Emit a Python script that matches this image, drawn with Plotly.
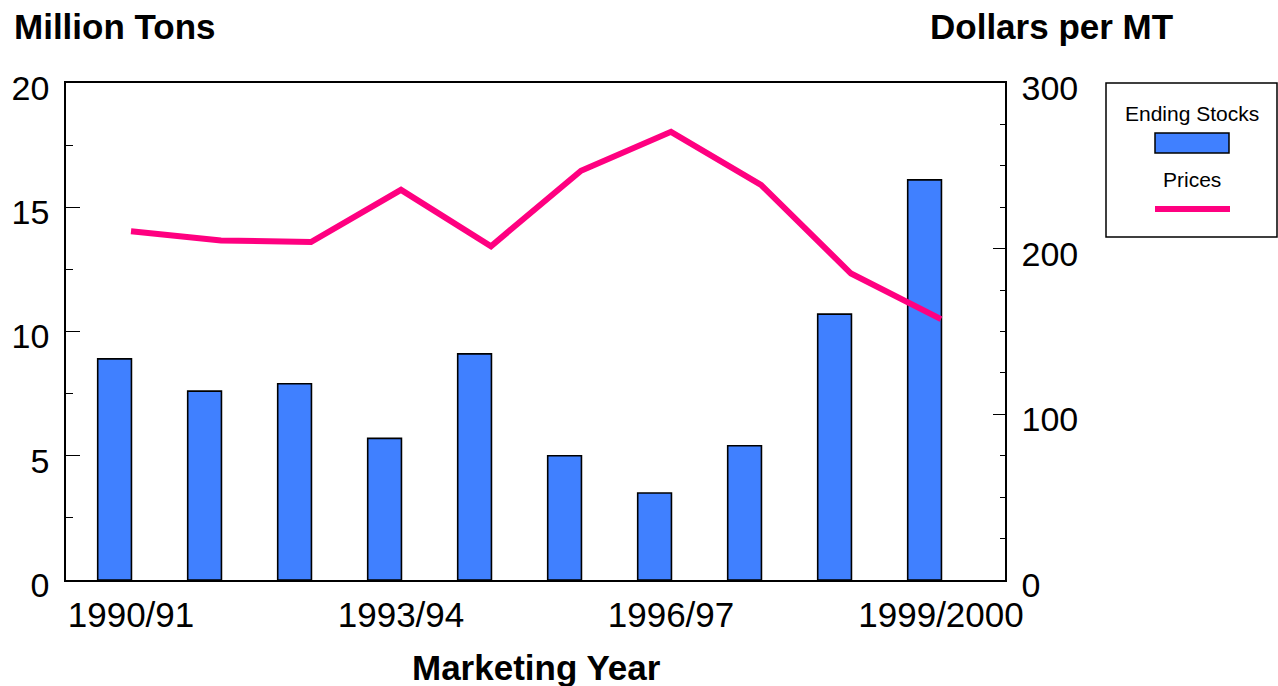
import plotly.graph_objects as go

years = ["1990/91", "1991/92", "1992/93", "1993/94", "1994/95",
         "1995/96", "1996/97", "1997/98", "1998/99", "1999/2000"]
ending_stocks = [8.9, 7.6, 7.9, 5.7, 9.1, 5.0, 3.5, 5.4, 10.7, 16.1]
prices = [210.5, 205.0, 204.0, 235.5, 201.5, 247.0, 270.5, 238.5, 185.0, 157.5]
tick_years = ["1990/91", "1993/94", "1996/97", "1999/2000"]

xpos = list(range(len(years)))
tick_pos = [years.index(t) for t in tick_years]

BAR_COLOR = "#4080FF"
LINE_COLOR = "#FF0080"
FONT = "Liberation Sans, Arial, sans-serif"

W, H = 1278, 686
ML, MR, MT, MB = 66, 273, 83, 106

fig = go.Figure()
fig.add_trace(go.Bar(
    x=xpos, y=ending_stocks, name="Ending Stocks",
    offset=-0.37, width=0.375,
    marker=dict(color=BAR_COLOR, line=dict(color="black", width=1.6)),
    yaxis="y", showlegend=False,
))
fig.add_trace(go.Scatter(
    x=xpos, y=prices, name="Prices", mode="lines",
    line=dict(color=LINE_COLOR, width=6),
    yaxis="y2", showlegend=False,
))

fig.update_layout(
    width=W, height=H,
    margin=dict(l=ML, r=MR, t=MT, b=MB, autoexpand=False),
    paper_bgcolor="white", plot_bgcolor="white",
    font=dict(family=FONT, size=34, color="black"),
    xaxis=dict(
        range=[-0.7222, 9.7111], tickmode="array",
        tickvals=tick_pos, ticktext=tick_years,
        ticks="", showgrid=False, zeroline=False, automargin=False,
        showline=True, linecolor="black", linewidth=2, mirror=True,
        ticklabelstandoff=3,
        tickfont=dict(size=35),
    ),
    yaxis=dict(
        range=[0, 20], tickvals=[0, 5, 10, 15, 20], automargin=False,
        ticks="inside", ticklen=14, tickwidth=1, tickcolor="black",
        minor=dict(dtick=2.5, ticks="inside", ticklen=7, tickwidth=1, tickcolor="black"),
        showgrid=False, zeroline=False,
        showline=True, linecolor="black", linewidth=1.5,
        ticklabelstandoff=8, ticklabelshift=5,
        tickfont=dict(size=34),
    ),
    yaxis2=dict(
        range=[0, 300], tickvals=[0, 100, 200, 300], overlaying="y", side="right",
        automargin=False,
        ticks="inside", ticklen=12, tickwidth=1, tickcolor="black",
        minor=dict(dtick=25, ticks="inside", ticklen=5, tickwidth=1, tickcolor="black"),
        showgrid=False, zeroline=False,
        showline=True, linecolor="black", linewidth=1.5,
        ticklabelstandoff=8, ticklabelshift=5,
        tickfont=dict(size=34),
    ),
    showlegend=False,
)

dom_w = W - ML - MR
dom_h = H - MT - MB
def ppx(x):
    return (x - ML) / dom_w
def ppy(y):
    return (H - MB - y) / dom_h

annotations = [
    dict(text="<b>Million Tons</b>", x=ppx(12), y=ppy(26), xanchor="left", yanchor="middle",
         font=dict(size=35)),
    dict(text="<b>Dollars per MT</b>", x=ppx(1051), y=ppy(26), xanchor="center", yanchor="middle",
         font=dict(size=35)),
    dict(text="<b>Marketing Year</b>", x=ppx(536), y=ppy(667), xanchor="center", yanchor="middle",
         font=dict(size=35)),
    dict(text="Ending Stocks", x=ppx(1192), y=ppy(114), xanchor="center", yanchor="middle",
         font=dict(size=21)),
    dict(text="Prices", x=ppx(1192), y=ppy(179), xanchor="center", yanchor="middle",
         font=dict(size=21)),
]
for a in annotations:
    a.update(xref="paper", yref="paper", showarrow=False)

shapes = [
    dict(type="rect", xref="paper", yref="paper", x0=ppx(1106), x1=ppx(1277), y0=ppy(237), y1=ppy(83),
         line=dict(color="black", width=1.5), fillcolor="white", layer="below"),
    dict(type="rect", xref="paper", yref="paper", x0=ppx(1155), x1=ppx(1229), y0=ppy(153), y1=ppy(133),
         line=dict(color="black", width=1.5), fillcolor=BAR_COLOR, layer="above"),
    dict(type="line", xref="paper", yref="paper", x0=ppx(1155), x1=ppx(1230), y0=ppy(209), y1=ppy(209),
         line=dict(color=LINE_COLOR, width=6), layer="above"),
]

fig.update_layout(annotations=annotations, shapes=shapes)
fig.write_html(
    "out.html",
    config={"displayModeBar": False},
    post_script="document.body.style.margin='0';document.body.style.overflow='hidden';",
)
